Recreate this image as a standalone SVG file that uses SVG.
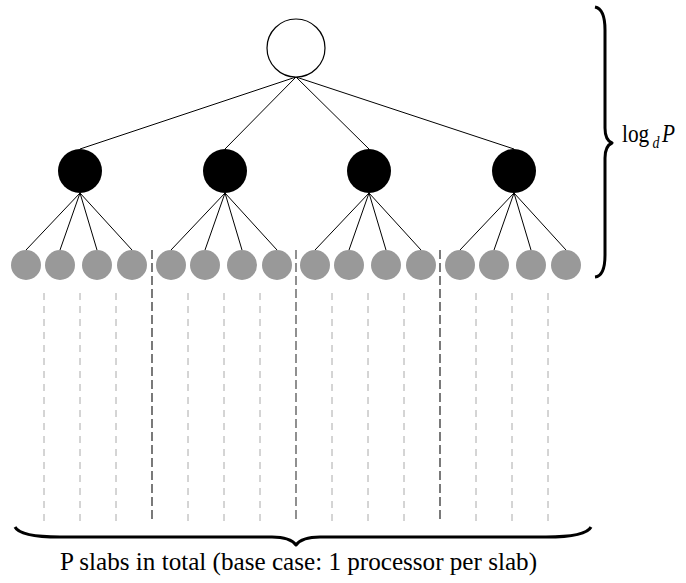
<svg xmlns="http://www.w3.org/2000/svg" width="686" height="583" viewBox="0 0 686 583">
<style>
.edge{stroke:#000;stroke-width:1;fill:none}
.root{fill:#fff;stroke:#000;stroke-width:1.2}
.inner{fill:#000}
.leaf{fill:#999}
.slab{stroke:#aaa;stroke-width:1;stroke-dasharray:7 6}
.div{stroke:#333;stroke-width:1.3;stroke-dasharray:9 4}
.brace{fill:none;stroke:#000;stroke-width:3;stroke-linejoin:round}
.lbl{font-family:"Liberation Serif","Times New Roman",serif;fill:#000}
</style>
<g id="connectors">
<line class="edge" x1="296" y1="77" x2="80" y2="149"/>
<line class="edge" x1="296" y1="77" x2="225" y2="149"/>
<line class="edge" x1="296" y1="77" x2="369" y2="149"/>
<line class="edge" x1="296" y1="77" x2="514" y2="149"/>
<g transform="translate(80,0)">
<line class="edge" x1="0" y1="193" x2="-54" y2="250"/><line class="edge" x1="0" y1="193" x2="-20" y2="250"/><line class="edge" x1="0" y1="193" x2="17" y2="250"/><line class="edge" x1="0" y1="193" x2="52" y2="250"/>
</g>
<g transform="translate(225,0)">
<line class="edge" x1="0" y1="193" x2="-54" y2="250"/><line class="edge" x1="0" y1="193" x2="-20" y2="250"/><line class="edge" x1="0" y1="193" x2="17" y2="250"/><line class="edge" x1="0" y1="193" x2="52" y2="250"/>
</g>
<g transform="translate(369,0)">
<line class="edge" x1="0" y1="193" x2="-54" y2="250"/><line class="edge" x1="0" y1="193" x2="-20" y2="250"/><line class="edge" x1="0" y1="193" x2="17" y2="250"/><line class="edge" x1="0" y1="193" x2="52" y2="250"/>
</g>
<g transform="translate(514,0)">
<line class="edge" x1="0" y1="193" x2="-54" y2="250"/><line class="edge" x1="0" y1="193" x2="-20" y2="250"/><line class="edge" x1="0" y1="193" x2="17" y2="250"/><line class="edge" x1="0" y1="193" x2="52" y2="250"/>
</g>
</g>
<g id="slab-lines">
<line class="slab" x1="44" y1="293" x2="44" y2="521"/>
<line class="slab" x1="80" y1="293" x2="80" y2="521"/>
<line class="slab" x1="116" y1="293" x2="116" y2="521"/>
<line class="slab" x1="188" y1="293" x2="188" y2="521"/>
<line class="slab" x1="224" y1="293" x2="224" y2="521"/>
<line class="slab" x1="260" y1="293" x2="260" y2="521"/>
<line class="slab" x1="332" y1="293" x2="332" y2="521"/>
<line class="slab" x1="368" y1="293" x2="368" y2="521"/>
<line class="slab" x1="404" y1="293" x2="404" y2="521"/>
<line class="slab" x1="476" y1="293" x2="476" y2="521"/>
<line class="slab" x1="512" y1="293" x2="512" y2="521"/>
<line class="slab" x1="548" y1="293" x2="548" y2="521"/>
<line class="div" x1="152" y1="250" x2="152" y2="522"/>
<line class="div" x1="296" y1="250" x2="296" y2="522" style="stroke:#555"/>
<line class="div" x1="440" y1="250" x2="440" y2="522"/>
</g>
<g id="root"><circle class="root" cx="296" cy="48" r="29"/></g>
<g id="n1"><circle class="inner" cx="80" cy="171" r="22"/></g>
<g id="n2"><circle class="inner" cx="225" cy="171" r="22"/></g>
<g id="n3"><circle class="inner" cx="369" cy="171" r="22"/></g>
<g id="n4"><circle class="inner" cx="514" cy="171" r="22"/></g>
<g id="leaves">
<circle class="leaf" cx="26" cy="265" r="15"/><circle class="leaf" cx="60" cy="265" r="15"/><circle class="leaf" cx="97" cy="265" r="15"/><circle class="leaf" cx="132" cy="265" r="15"/>
<circle class="leaf" cx="171" cy="265" r="15"/><circle class="leaf" cx="205" cy="265" r="15"/><circle class="leaf" cx="242" cy="265" r="15"/><circle class="leaf" cx="277" cy="265" r="15"/>
<circle class="leaf" cx="315" cy="265" r="15"/><circle class="leaf" cx="349" cy="265" r="15"/><circle class="leaf" cx="386" cy="265" r="15"/><circle class="leaf" cx="421" cy="265" r="15"/>
<circle class="leaf" cx="460" cy="265" r="15"/><circle class="leaf" cx="494" cy="265" r="15"/><circle class="leaf" cx="531" cy="265" r="15"/><circle class="leaf" cx="566" cy="265" r="15"/>
</g>
<g id="height-brace">
<path class="brace" d="M595 7 Q605 9 605 30 L605 128 Q605 140 612 143 Q605 146 605 158 L605 255 Q605 276 595 277"/>
<text class="lbl" transform="translate(622,142) scale(0.82,1)" font-size="26">log<tspan font-style="italic" font-size="17" dx="4" dy="6">d</tspan><tspan font-style="italic" dx="3" dy="-6">P</tspan></text>
</g>
<g id="slab-brace">
<path class="brace" d="M15 527 Q20 537 60 537 L272 537 Q290 537 296 545 Q302 537 320 537 L546 537 Q586 537 591 527"/>
<text class="lbl" x="60" y="570" font-size="26" textLength="477" lengthAdjust="spacingAndGlyphs">P slabs in total (base case: 1 processor per slab)</text>
</g>
</svg>
